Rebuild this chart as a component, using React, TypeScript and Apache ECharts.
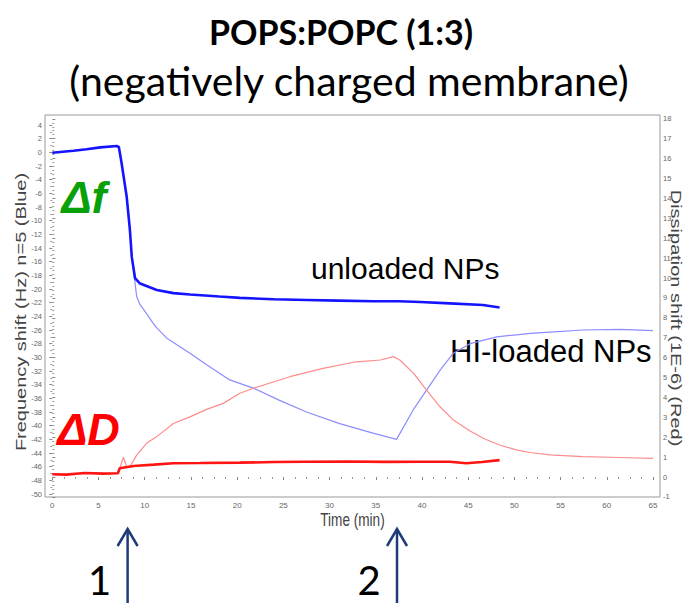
import { useEffect, useRef } from "react";
import * as echarts from "echarts";

// QCM-D traces: [time (min), value]
// Frequency shift (Hz), n=5 — left axis
const unloadedFreq: [number, number][] = [
  [0, -0.06], [2.3, 0.23], [3.7, 0.44], [5.2, 0.73], [6.97, 0.92], [7.2, 0.78],
  [7.5, -1.6], [8.05, -6.5], [8.4, -11.4], [8.6, -15.3], [8.95, -18.4], [9.5, -19.2],
  [11.3, -20.15], [13.1, -20.6], [14.9, -20.8], [18.1, -21.1], [20.3, -21.3],
  [24, -21.5], [27.5, -21.6], [31, -21.7], [34.7, -21.8], [37.5, -21.8],
  [39.8, -21.9], [43, -22.1], [46.6, -22.35], [48.4, -22.7],
];

const hiLoadedFreq: [number, number][] = [
  [0, -0.06], [2.3, 0.23], [3.7, 0.44], [5.2, 0.73], [6.97, 0.92], [7.2, 0.78],
  [7.5, -1.6], [8.05, -6.5], [8.4, -11.4], [8.6, -15.3], [8.85, -18.0], [9.13, -21.1],
  [9.5, -22.3], [10.2, -23.6], [10.9, -25.0], [11.3, -25.7], [12.4, -27.2],
  [14.9, -29.4], [16.7, -31.1], [19.2, -33.3], [21.75, -34.5], [24.6, -36.3],
  [27.5, -38.0], [31.1, -39.7], [34.7, -41.1], [37.25, -42.0], [39.05, -37.7],
  [40.5, -34.8], [41.95, -31.9], [43.4, -29.4], [45.2, -28.0], [48.1, -27.0],
  [50.25, -26.7], [51.7, -26.5], [53.85, -26.3], [57.4, -26.0], [61.4, -25.9],
  [65, -26.1],
];

// Dissipation shift (1E-6) — right axis
const unloadedDiss: [number, number][] = [
  [0, 0.14], [1.5, 0.12], [3.5, 0.2], [5.5, 0.17], [7.1, 0.19], [7.3, 0.44],
  [8.8, 0.55], [11, 0.62], [13.1, 0.69], [16, 0.7], [20.3, 0.72], [24, 0.75],
  [27.5, 0.77], [32, 0.78], [36, 0.76], [39.8, 0.77], [43, 0.77], [44.8, 0.69],
  [46.5, 0.75], [48.4, 0.85],
];

const hiLoadedDiss: [number, number][] = [
  [0, 0.14], [1.5, 0.12], [3.5, 0.2], [5.5, 0.17], [7.1, 0.19], [7.3, 0.44],
  [7.7, 0.99], [8.05, 0.5], [8.45, 0.55], [9.13, 1.1], [10.2, 1.69], [11.3, 2.03],
  [13.1, 2.69], [14.9, 3.02], [16.7, 3.4], [18.5, 3.7], [20.3, 4.21], [21.75, 4.46],
  [25.7, 5.04], [29.3, 5.46], [32.9, 5.79], [35.5, 5.88], [36.9, 6.05], [37.6, 5.88],
  [39.1, 5.21], [40.5, 4.37], [41.95, 3.53], [43.4, 2.86], [45.2, 2.31], [46.8, 1.91],
  [48.4, 1.61], [50.2, 1.36], [51.7, 1.23], [53.85, 1.11], [57.4, 1.02], [61.4, 0.98],
  [65, 0.94],
];

// Injection steps marked under the time axis
const injectionTimes = [8.15, 37.3];
const injectionLabels = ["1", "2"];

const AXIS_FONT = "Liberation Sans";
const NAVY = "#1f3b7a";

export default function App() {
  const ref = useRef<HTMLDivElement>(null);

  useEffect(() => {
    if (!ref.current) return;
    const chart = echarts.init(ref.current, undefined, { renderer: "svg" });

    const tickLabel = { fontSize: 7.5, color: "#666", fontFamily: AXIS_FONT };
    const tick = { show: true, inside: false, length: 3, lineStyle: { color: "#888" } };

    chart.setOption({
      animation: false,
      textStyle: { fontFamily: AXIS_FONT },
      grid: [
        { left: 52.3, right: 33, top: 125, bottom: 109 },
        { left: 52.3, right: 33, top: 118.8, bottom: 106.1 },
      ],
      xAxis: [
        { type: "value", gridIndex: 0, min: 0, max: 65, show: false },
        {
          type: "value", gridIndex: 1, min: 0, max: 65, interval: 5,
          axisLine: { show: false }, splitLine: { show: false },
          axisTick: tick,
          minorTick: { show: true, splitNumber: 4, length: 2, lineStyle: { color: "#999" } },
          axisLabel: { ...tickLabel, fontSize: 8, margin: 5 },
        },
      ],
      yAxis: [
        {
          type: "value", gridIndex: 0, min: -50, max: 4, interval: 2,
          position: "left", offset: 7.3,
          axisLine: { show: false }, splitLine: { show: false },
          axisTick: tick,
          minorTick: { show: true, splitNumber: 2, length: 2, lineStyle: { color: "#999" } },
          axisLabel: { ...tickLabel, margin: 3 },
        },
        {
          type: "value", gridIndex: 1, min: -1, max: 18, interval: 1,
          position: "right", offset: 7,
          axisLine: { show: false }, splitLine: { show: false },
          axisTick: tick,
          minorTick: { show: true, splitNumber: 5, length: 2, lineStyle: { color: "#999" } },
          axisLabel: { ...tickLabel, margin: 3 },
        },
      ],
      series: [
        {
          name: "HI-loaded Δf", type: "line", xAxisIndex: 0, yAxisIndex: 0,
          data: hiLoadedFreq, showSymbol: false, symbol: "none",
          lineStyle: { color: "#8c8cff", width: 1.2 },
        },
        {
          name: "HI-loaded ΔD", type: "line", xAxisIndex: 1, yAxisIndex: 1,
          data: hiLoadedDiss, showSymbol: false, symbol: "none",
          lineStyle: { color: "#ff8c8c", width: 1.2 },
        },
        {
          name: "unloaded Δf", type: "line", xAxisIndex: 0, yAxisIndex: 0,
          data: unloadedFreq, showSymbol: false, symbol: "none",
          lineStyle: { color: "#1414ff", width: 2.6 },
        },
        {
          name: "unloaded ΔD", type: "line", xAxisIndex: 1, yAxisIndex: 1,
          data: unloadedDiss, showSymbol: false, symbol: "none",
          lineStyle: { color: "#ff1414", width: 2.6 },
        },
      ],
    });

    const arrowX = injectionTimes.map(
      (t) => chart.convertToPixel({ xAxisIndex: 1 }, t) as number
    );

    const arrows = arrowX.flatMap((x, i) => [
      {
        type: "line", silent: true,
        shape: { x1: x, y1: 603, x2: x, y2: 529 },
        style: { stroke: NAVY, lineWidth: 2.5 },
      },
      {
        type: "polyline", silent: true,
        shape: { points: [[x - 10, 546], [x, 529], [x + 10, 546]] },
        style: { stroke: NAVY, lineWidth: 2.5, fill: "none" },
      },
      {
        type: "text", silent: true, x: x - 28, y: 580,
        style: {
          text: injectionLabels[i], fontSize: 40, fontFamily: "Lato",
          fill: "#000", align: "center", verticalAlign: "middle",
        },
      },
    ]);

    chart.setOption({
      graphic: [
        {
          type: "rect", silent: true,
          shape: { x: 45, y: 115, width: 615, height: 382 },
          style: { fill: "none", stroke: "#999", lineWidth: 1 },
        },
        {
          type: "text", silent: true, x: 341, y: 31,
          style: {
            text: "POPS:POPC (1:3)", fontSize: 34, fontWeight: "bold", fontFamily: "Lato",
            fill: "#000", align: "center", verticalAlign: "middle",
          },
        },
        {
          type: "text", silent: true, x: 349, y: 80,
          style: {
            text: "(negatively charged membrane)", fontSize: 41, fontFamily: "Lato",
            fill: "#000", align: "center", verticalAlign: "middle",
          },
        },
        {
          type: "text", silent: true, x: 21, y: 312, rotation: Math.PI / 2, scaleY: 0.7,
          style: {
            text: "Frequency shift (Hz) n=5 (Blue)", fontSize: 20, fontFamily: AXIS_FONT,
            fill: "#444", align: "center", verticalAlign: "middle",
          },
        },
        {
          type: "text", silent: true, x: 676, y: 318, rotation: -Math.PI / 2, scaleY: 0.7,
          style: {
            text: "Dissipation shift (1E-6) (Red)", fontSize: 20, fontFamily: AXIS_FONT,
            fill: "#444", align: "center", verticalAlign: "middle",
          },
        },
        {
          type: "text", silent: true, x: 352.5, y: 520, scaleX: 0.756,
          style: {
            text: "Time (min)", fontSize: 18, fontFamily: AXIS_FONT,
            fill: "#444", align: "center", verticalAlign: "middle",
          },
        },
        {
          type: "text", silent: true, x: 84, y: 197,
          style: {
            text: "Δf", fontSize: 45, fontWeight: "bold", fontStyle: "italic",
            fontFamily: AXIS_FONT, fill: "#0aa00a", align: "center", verticalAlign: "middle",
          },
        },
        {
          type: "text", silent: true, x: 88.5, y: 429,
          style: {
            text: "ΔD", fontSize: 45, fontWeight: "bold", fontStyle: "italic",
            fontFamily: AXIS_FONT, fill: "#ff0000", align: "center", verticalAlign: "middle",
          },
        },
        {
          type: "text", silent: true, x: 311, y: 268,
          style: {
            text: "unloaded NPs", fontSize: 30, fontFamily: AXIS_FONT,
            fill: "#000", align: "left", verticalAlign: "middle",
          },
        },
        {
          type: "text", silent: true, x: 450, y: 351,
          style: {
            text: "HI-loaded NPs", fontSize: 31, fontFamily: AXIS_FONT,
            fill: "#000", align: "left", verticalAlign: "middle",
          },
        },
        ...arrows,
      ],
    });

    return () => chart.dispose();
  }, []);

  return (
    <div
      ref={ref}
      style={{ position: "fixed", left: 0, top: 0, width: 686, height: 603, background: "#fff" }}
    />
  );
}
